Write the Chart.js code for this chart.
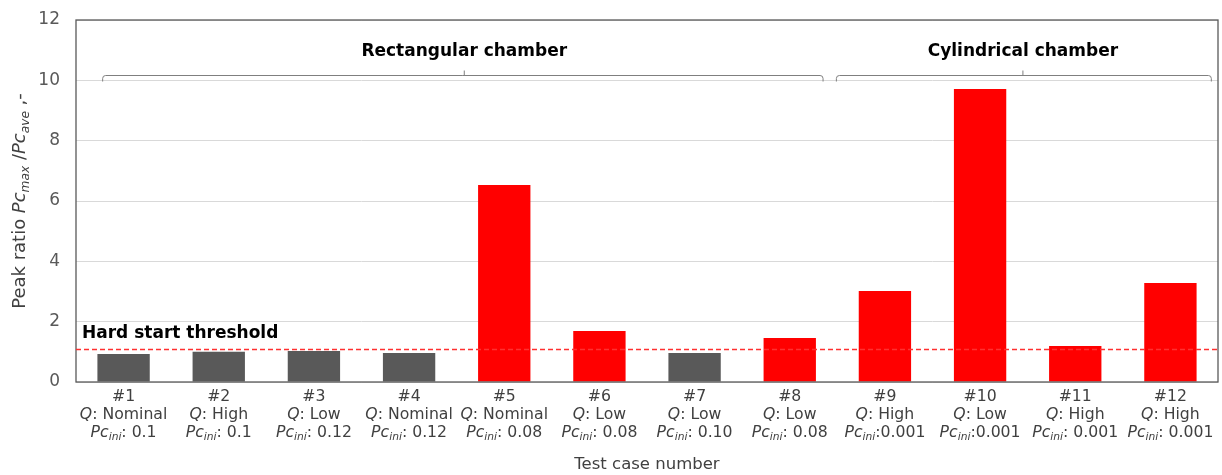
<!DOCTYPE html>
<html>
<head>
<meta charset="utf-8">
<script src="https://cdn.jsdelivr.net/npm/chart.js@4.4.1/dist/chart.umd.min.js"></script>
<style>
  html, body { margin: 0; padding: 0; background: #fff; }
  #wrap { position: relative; width: 1222px; height: 475px; }
</style>
</head>
<body>
<div id="wrap"><canvas id="c"></canvas></div>
<script>
// ── Data ────────────────────────────────────────────────────────────────
const caseLabels = ['#1', '#2', '#3', '#4', '#5', '#6', '#7', '#8', '#9', '#10', '#11', '#12'];
const qLevels = ['Nominal', 'High', 'Low', 'Nominal', 'Nominal', 'Low', 'Low', 'Low', 'High', 'Low', 'High', 'High'];
const pcIniLabels = [': 0.1', ': 0.1', ': 0.12', ': 0.12', ': 0.08', ': 0.08', ': 0.10', ': 0.08', ':0.001', ':0.001', ': 0.001', ': 0.001'];
const peakRatio = [0.93, 1.0, 1.03, 0.96, 6.53, 1.69, 0.96, 1.46, 3.02, 9.71, 1.19, 3.28];
const hardStart = [false, false, false, false, true, true, false, true, true, true, true, true];
const threshold = 1.1;
const thresholdLabel = 'Hard start threshold';
// chamber groups, in category-index units
const groupNames = ['Rectangular chamber', 'Cylindrical chamber'];
const groupFrom = [-0.22, 7.49];
const groupTo = [7.35, 11.43];
const groupMid = [3.58, 9.45];

const FONT = '"DejaVu Sans", Verdana, sans-serif';
const GREY_BAR = '#595959';
const RED_BAR = '#ff0000';

/**
 * Draws a run of text segments (italic / subscript) centred on x.
 */
function drawRich(ctx, segs, x, y, size, color) {
  const fontFor = (s) => `${s.i ? 'italic ' : ''}${s.sub ? (size * 0.68).toFixed(1) : size}px ${FONT}`;
  let total = 0;
  segs.forEach((s) => { ctx.font = fontFor(s); total += ctx.measureText(s.t).width; });
  let cx = x - total / 2;
  ctx.fillStyle = color;
  ctx.textAlign = 'left';
  ctx.textBaseline = 'middle';
  segs.forEach((s) => {
    ctx.font = fontFor(s);
    ctx.fillText(s.t, cx, s.sub ? y + size * 0.3 : y);
    cx += ctx.measureText(s.t).width;
  });
}

const decorPlugin = {
  id: 'decor',
  afterDraw(chart) {
    const { ctx, chartArea: a, scales: { x, y } } = chart;
    ctx.save();

    // plot frame
    ctx.strokeStyle = '#595959';
    ctx.lineWidth = 1.3;
    ctx.strokeRect(a.left, a.top, a.right - a.left, a.bottom - a.top);

    // threshold line + label
    const ty = Math.round(y.getPixelForValue(threshold)) + 0.5;
    ctx.strokeStyle = '#ff3030';
    ctx.lineWidth = 1.5;
    ctx.setLineDash([5, 3]);
    ctx.beginPath();
    ctx.moveTo(a.left, ty);
    ctx.lineTo(a.right, ty);
    ctx.stroke();
    ctx.setLineDash([]);
    ctx.font = `bold 17px ${FONT}`;
    ctx.fillStyle = '#000';
    ctx.textAlign = 'left';
    ctx.textBaseline = 'middle';
    ctx.fillText(thresholdLabel, a.left + 6, ty - 16);

    // chamber brackets
    groupNames.forEach((name, g) => {
      const x0 = x.getPixelForValue(groupFrom[g]);
      const x1 = x.getPixelForValue(groupTo[g]);
      const xm = x.getPixelForValue(groupMid[g]);
      const yb = Math.round(y.getPixelForValue(10)) - 4.5;
      const r = 3;
      ctx.strokeStyle = '#7f7f7f';
      ctx.lineWidth = 1;
      ctx.beginPath();
      ctx.moveTo(x0, yb + 6);
      ctx.lineTo(x0, yb + r);
      ctx.quadraticCurveTo(x0, yb, x0 + r, yb);
      ctx.lineTo(x1 - r, yb);
      ctx.quadraticCurveTo(x1, yb, x1, yb + r);
      ctx.lineTo(x1, yb + 6);
      ctx.moveTo(xm, yb);
      ctx.lineTo(xm, yb - 5);
      ctx.stroke();
      ctx.font = `bold 17px ${FONT}`;
      ctx.fillStyle = '#000';
      ctx.textAlign = 'center';
      ctx.textBaseline = 'middle';
      ctx.fillText(name, xm, y.getPixelForValue(10.95));
    });

    // x tick labels (three lines, italic / subscript parts)
    caseLabels.forEach((lab, i) => {
      const cx = x.getPixelForValue(i);
      drawRich(ctx, [{ t: lab }], cx, a.bottom + 15, 15.7, '#404040');
      drawRich(ctx, [{ t: 'Q', i: true }, { t: ': ' + qLevels[i] }], cx, a.bottom + 33, 15.7, '#404040');
      drawRich(ctx, [{ t: 'Pc', i: true }, { t: 'ini', i: true, sub: true }, { t: pcIniLabels[i] }],
        cx, a.bottom + 51, 15.7, '#404040');
    });

    // axis titles
    drawRich(ctx, [{ t: 'Test case number' }], (a.left + a.right) / 2, 465, 16.5, '#404040');
    ctx.translate(20, (a.top + a.bottom) / 2);
    ctx.rotate(-Math.PI / 2);
    drawRich(ctx, [
      { t: 'Peak ratio ' },
      { t: 'Pc', i: true }, { t: 'max', i: true, sub: true },
      { t: ' /' },
      { t: 'Pc', i: true }, { t: 'ave', i: true, sub: true },
      { t: ' ,-' },
    ], 0, 0, 18, '#404040');
    ctx.restore();
  },
};

new Chart(document.getElementById('c').getContext('2d'), {
  type: 'bar',
  data: {
    labels: caseLabels,
    datasets: [{
      data: peakRatio,
      backgroundColor: hardStart.map((h) => (h ? RED_BAR : GREY_BAR)),
      borderWidth: 0,
      categoryPercentage: 1,
      barPercentage: 0.55,
    }],
  },
  options: {
    responsive: true,
    maintainAspectRatio: false,
    animation: false,
    layout: { padding: { top: 20, right: 4, left: 0, bottom: 0 } },
    plugins: { legend: { display: false }, tooltip: { enabled: false } },
    scales: {
      x: {
        grid: { display: false },
        border: { display: false },
        ticks: { display: false },
        afterFit(scale) { scale.height = 93; },
      },
      y: {
        min: 0,
        max: 12,
        ticks: {
          stepSize: 2,
          padding: 16,
          color: '#595959',
          font: { family: FONT, size: 17 },
        },
        grid: { color: '#d9d9d9', drawTicks: false },
        border: { display: false },
        afterFit(scale) {
          scale.width = 76;
          scale.paddingTop = 0;
          scale.paddingBottom = 0;
        },
      },
    },
  },
  plugins: [decorPlugin],
});
</script>
</body>
</html>
